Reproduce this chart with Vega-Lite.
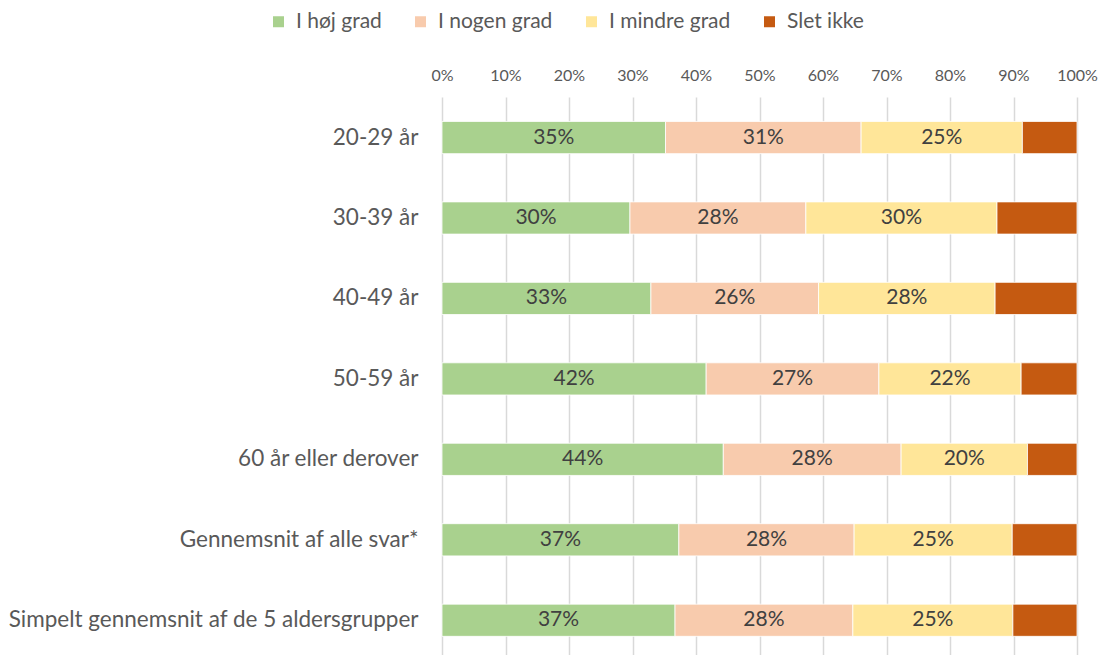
{
  "$schema": "https://vega.github.io/schema/vega-lite/v6.json",
  "autosize": "none",
  "padding": {"left": 442, "top": 97, "right": 24, "bottom": 0},
  "width": 635,
  "height": 558,
  "background": "white",
  "config": {"view": {"stroke": null}, "font": "Lato"},
  "data": {
    "values": [
      {"group": "20-29 år", "series": "I høj grad", "o": 1, "v": 35.2},
      {"group": "20-29 år", "series": "I nogen grad", "o": 2, "v": 30.8},
      {"group": "20-29 år", "series": "I mindre grad", "o": 3, "v": 25.4},
      {"group": "20-29 år", "series": "Slet ikke", "o": 4, "v": 8.6},
      {"group": "30-39 år", "series": "I høj grad", "o": 1, "v": 29.6},
      {"group": "30-39 år", "series": "I nogen grad", "o": 2, "v": 27.7},
      {"group": "30-39 år", "series": "I mindre grad", "o": 3, "v": 30.1},
      {"group": "30-39 år", "series": "Slet ikke", "o": 4, "v": 12.6},
      {"group": "40-49 år", "series": "I høj grad", "o": 1, "v": 32.9},
      {"group": "40-49 år", "series": "I nogen grad", "o": 2, "v": 26.4},
      {"group": "40-49 år", "series": "I mindre grad", "o": 3, "v": 27.8},
      {"group": "40-49 år", "series": "Slet ikke", "o": 4, "v": 12.9},
      {"group": "50-59 år", "series": "I høj grad", "o": 1, "v": 41.6},
      {"group": "50-59 år", "series": "I nogen grad", "o": 2, "v": 27.2},
      {"group": "50-59 år", "series": "I mindre grad", "o": 3, "v": 22.4},
      {"group": "50-59 år", "series": "Slet ikke", "o": 4, "v": 8.8},
      {"group": "60 år eller derover", "series": "I høj grad", "o": 1, "v": 44.3},
      {"group": "60 år eller derover", "series": "I nogen grad", "o": 2, "v": 28.0},
      {"group": "60 år eller derover", "series": "I mindre grad", "o": 3, "v": 19.9},
      {"group": "60 år eller derover", "series": "Slet ikke", "o": 4, "v": 7.8},
      {"group": "Gennemsnit af alle svar*", "series": "I høj grad", "o": 1, "v": 37.3},
      {"group": "Gennemsnit af alle svar*", "series": "I nogen grad", "o": 2, "v": 27.6},
      {"group": "Gennemsnit af alle svar*", "series": "I mindre grad", "o": 3, "v": 24.9},
      {"group": "Gennemsnit af alle svar*", "series": "Slet ikke", "o": 4, "v": 10.2},
      {"group": "Simpelt gennemsnit af de 5 aldersgrupper", "series": "I høj grad", "o": 1, "v": 36.7},
      {"group": "Simpelt gennemsnit af de 5 aldersgrupper", "series": "I nogen grad", "o": 2, "v": 28.0},
      {"group": "Simpelt gennemsnit af de 5 aldersgrupper", "series": "I mindre grad", "o": 3, "v": 25.2},
      {"group": "Simpelt gennemsnit af de 5 aldersgrupper", "series": "Slet ikke", "o": 4, "v": 10.1}
    ]
  },
  "transform": [
    {"stack": "v", "groupby": ["group"], "sort": [{"field": "o", "order": "ascending"}], "as": ["v0", "v1"]},
    {"calculate": "(datum.v0 + datum.v1) / 2", "as": "mid"},
    {"calculate": "format(datum.v, '.0f') + '%'", "as": "lbl"}
  ],
  "encoding": {
    "y": {
      "field": "group",
      "type": "nominal",
      "sort": null,
      "scale": {"paddingInner": 0.6, "paddingOuter": 0.268, "align": 0.567},
      "axis": {
        "title": null,
        "domain": false,
        "ticks": false,
        "labelPadding": 24,
        "labelFontSize": 22.5,
        "labelFont": "Lato",
        "labelColor": "#595959",
        "labelLimit": 600
      }
    }
  },
  "layer": [
    {
      "mark": {"type": "bar", "stroke": "#ffffff", "strokeWidth": 0.8},
      "encoding": {
        "x": {
          "field": "v0",
          "type": "quantitative",
          "scale": {"domain": [0, 100], "nice": false},
          "axis": {
            "orient": "top",
            "title": null,
            "domain": false,
            "ticks": false,
            "grid": true,
            "gridColor": "#d9d9d9",
            "gridWidth": 1.5,
            "values": [0, 10, 20, 30, 40, 50, 60, 70, 80, 90, 100],
            "labelExpr": "datum.value + '%'",
            "labelFontSize": 16,
            "labelFont": "Lato",
            "labelColor": "#595959",
            "labelPadding": 14,
            "labelFlush": false
          }
        },
        "x2": {"field": "v1"},
        "color": {
          "field": "series",
          "type": "nominal",
          "scale": {
            "domain": ["I høj grad", "I nogen grad", "I mindre grad", "Slet ikke"],
            "range": ["#A9D18E", "#F8CBAD", "#FFE699", "#C55A11"]
          },
          "legend": {
            "title": null,
            "orient": "none",
            "legendX": -174,
            "legendY": -86,
            "direction": "horizontal",
            "symbolType": "square",
            "symbolSize": 121,
            "symbolStrokeWidth": 0,
            "labelFontSize": 21,
            "labelFont": "Lato",
            "labelColor": "#595959",
            "columnPadding": 28,
            "labelOffset": 7
          }
        }
      }
    },
    {
      "transform": [{"filter": "datum.series != 'Slet ikke'"}],
      "mark": {"type": "text", "font": "Lato", "fontSize": 21, "color": "#404040", "baseline": "middle", "align": "center"},
      "encoding": {
        "x": {"field": "mid", "type": "quantitative"},
        "text": {"field": "lbl"}
      }
    }
  ]
}
